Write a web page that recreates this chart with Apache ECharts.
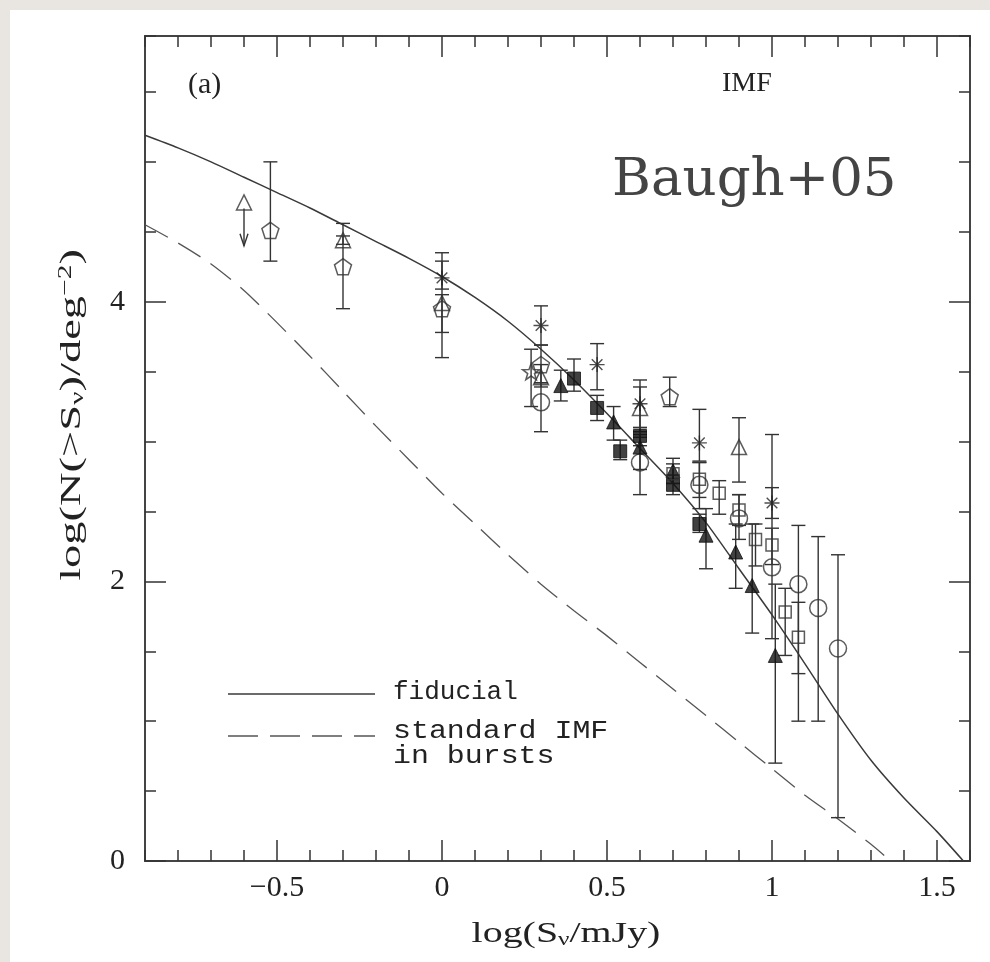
<!DOCTYPE html>
<html><head><meta charset="utf-8">
<script src="https://cdn.jsdelivr.net/npm/echarts@6/dist/echarts.min.js"></script>
<style>html,body{margin:0;padding:0;background:#e9e6e1;}#c{width:990px;height:962px;}</style>
</head><body><div id="c"></div>
<script>
// ---- model curves ----
const fiducialX = [-0.9,-0.8,-0.7,-0.6,-0.5,-0.4,-0.3,-0.2,-0.1,0,0.1,0.2,0.3,0.4,0.5,0.6,0.7,0.8,0.9,1.0,1.1,1.2,1.3,1.4,1.5,1.58];
const fiducialY = [5.19,5.10,5.00,4.89,4.78,4.67,4.55,4.43,4.31,4.18,4.03,3.86,3.66,3.44,3.20,2.95,2.70,2.42,2.09,1.76,1.41,1.05,0.72,0.45,0.21,0.0];
const burstX = [-0.9,-0.8,-0.7,-0.6,-0.5,-0.4,-0.3,-0.2,-0.1,0,0.1,0.2,0.3,0.4,0.5,0.6,0.7,0.8,0.9,1.0,1.1,1.2,1.3,1.34];
const burstY = [4.55,4.42,4.27,4.08,3.85,3.61,3.36,3.11,2.87,2.63,2.41,2.19,1.98,1.79,1.61,1.42,1.23,1.04,0.85,0.66,0.47,0.30,0.12,0.04];

// ---- observational points: [x, y, yLow, yHigh] ----
const pentagonPts = [[-0.52,4.51,4.29,5.00],[-0.30,4.25,3.95,4.56],[0.00,3.95,3.60,4.35],[0.30,3.55,3.42,3.69],[0.69,3.32,3.25,3.46]];
const openTriPts = [[-0.30,4.44,4.41,4.47],[0.00,3.99,3.78,4.05],[0.30,3.46,3.39,3.55],[0.60,3.24,3.07,3.44],[0.90,2.96,2.71,3.17]];
const asteriskPts = [[0.00,4.17,4.09,4.29],[0.30,3.83,3.69,3.97],[0.47,3.55,3.37,3.70],[0.60,3.27,3.10,3.39],[0.78,2.99,2.86,3.23],[1.00,2.56,2.45,2.67]];
const openCirclePts = [[0.30,3.28,3.07,3.42],[0.60,2.85,2.62,3.03],[0.78,2.69,2.52,2.85],[0.90,2.45,2.30,2.62],[1.00,2.10,1.59,3.05],[1.08,1.98,1.00,2.40],[1.14,1.81,1.00,2.32],[1.20,1.52,0.31,2.19]];
const filledSquarePts = [[0.40,3.45,3.36,3.59],[0.47,3.24,3.15,3.33],[0.54,2.93,2.87,3.01],[0.60,3.04,2.97,3.10],[0.70,2.69,2.62,2.76],[0.78,2.41,2.35,2.48]];
const filledTriPts = [[0.36,3.40,3.29,3.51],[0.52,3.14,3.01,3.25],[0.60,2.96,2.80,3.05],[0.70,2.79,2.70,2.88],[0.80,2.33,2.09,2.52],[0.89,2.21,1.95,2.41],[0.94,1.97,1.63,2.41],[1.01,1.47,0.70,1.98]];
const openSquarePts = [[0.70,2.77,2.70,2.84],[0.78,2.73,2.60,2.85],[0.84,2.63,2.48,2.72],[0.90,2.51,2.40,2.62],[0.95,2.30,2.11,2.41],[1.00,2.26,2.12,2.38],[1.04,1.78,1.47,1.95],[1.08,1.60,1.34,1.85]];
const starPts = [[0.27,3.50,3.25,3.66]];
// upper-limit point: [x, y, arrowTipY]
const limitPts = [[-0.60,4.71,4.40]];

// ---- tick labels ----
const xMajorTicks = [-0.5,0,0.5,1,1.5];
const yMajorTicks = [0,2,4];

const INK = '#333';
const SERIF = '"Liberation Serif","DejaVu Serif",serif';
const MONO = '"Liberation Mono","DejaVu Sans Mono",monospace';

function zip(a,b){return a.map((v,i)=>[v,b[i]]);}

function errRender(params, api){
  const x = api.value(0), lo = api.value(2), hi = api.value(3);
  const p1 = api.coord([x,hi]), p2 = api.coord([x,lo]);
  const w = 7;
  const st = {stroke:INK, lineWidth:1.4};
  return {type:'group', children:[
    {type:'line', shape:{x1:p1[0],y1:p1[1],x2:p2[0],y2:p2[1]}, style:st},
    {type:'line', shape:{x1:p1[0]-w,y1:p1[1],x2:p1[0]+w,y2:p1[1]}, style:st},
    {type:'line', shape:{x1:p2[0]-w,y1:p2[1],x2:p2[0]+w,y2:p2[1]}, style:st}
  ]};
}
function limitRender(params, api){
  const x = api.value(0), y = api.value(1), tip = api.value(2);
  const p1 = api.coord([x,y]), p2 = api.coord([x,tip]);
  const st = {stroke:INK, lineWidth:1.4, fill:null};
  return {type:'group', children:[
    {type:'line', shape:{x1:p1[0],y1:p1[1]+6,x2:p2[0],y2:p2[1]}, style:st},
    {type:'polyline', shape:{points:[[p2[0]-4,p2[1]-12],[p2[0],p2[1]],[p2[0]+4,p2[1]-12]]}, style:st}
  ]};
}

const PENT = 'path://M0,-10 L9.51,-3.09 L5.88,8.09 L-5.88,8.09 L-9.51,-3.09 Z';
const STAR = 'path://M0,-10 L2.35,-3.24 L9.51,-3.09 L3.8,1.24 L5.88,8.09 L0,4 L-5.88,8.09 L-3.8,1.24 L-9.51,-3.09 L-2.35,-3.24 Z';
const AST = 'path://M0,-10 L0,10 M-10,0 L10,0 M-7.07,-7.07 L7.07,7.07 M-7.07,7.07 L7.07,-7.07';
const openStyle = {color:'rgba(0,0,0,0)', borderColor:INK, borderWidth:1.5};
const fillStyle = {color:'#111', borderColor:'#111', borderWidth:1};

function errSeries(pts){
  return {type:'custom', renderItem:errRender, data:pts, encode:{x:0,y:1}, z:3, silent:true};
}
function markSeries(pts, symbol, size, style){
  return {type:'scatter', data:pts.map(p=>[p[0],p[1]]), symbol:symbol, symbolSize:size, symbolKeepAspect:true, itemStyle:style, z:4, silent:true};
}

const tickLine = {color:INK, width:1.5};
function xAxisPair(pos, withLabel){
  return [
    {type:'value', min:-0.9, max:1.6, interval:0.1, position:pos,
     axisLine:{show:false, onZero:false}, splitLine:{show:false},
     axisTick:{show:true, inside:true, length:11, lineStyle:tickLine},
     axisLabel:{show:withLabel, margin:12, color:'#222', fontFamily:SERIF, fontSize:30,
       formatter:function(v){const r=Math.round(v*2)/2; if(Math.abs(v-r)>1e-6) return ''; return (r<0?'\u2212':'')+String(Math.abs(r));}}},
    {type:'value', min:-0.9, max:1.6, position:pos,
     axisLine:{show:false, onZero:false}, splitLine:{show:false}, axisLabel:{show:false},
     axisTick:{show:true, inside:true, length:21, lineStyle:tickLine, customValues:xMajorTicks}}
  ];
}
function yAxisPair(pos, withLabel){
  return [
    {type:'value', min:0, max:5.9, interval:0.5, position:pos,
     axisLine:{show:false, onZero:false}, splitLine:{show:false},
     axisTick:{show:true, inside:true, length:11, lineStyle:tickLine},
     axisLabel:{show:withLabel, margin:20, color:'#222', fontFamily:SERIF, fontSize:30,
       formatter:function(v){return yMajorTicks.some(t=>Math.abs(t-v)<1e-6)?String(v):'';}}},
    {type:'value', min:0, max:5.9, position:pos,
     axisLine:{show:false, onZero:false}, splitLine:{show:false}, axisLabel:{show:false},
     axisTick:{show:true, inside:true, length:21, lineStyle:tickLine, customValues:yMajorTicks}}
  ];
}

const titleRich = {
  a:{fontFamily:SERIF,fontSize:30,fill:'#222',color:'#222'},
  s:{fontFamily:SERIF,fontSize:19,fill:'#222',color:'#222',verticalAlign:'bottom',padding:[12,0,0,0]},
  p:{fontFamily:SERIF,fontSize:19,fill:'#222',color:'#222',verticalAlign:'top',padding:[0,0,12,0]}
};

const chart = echarts.init(document.getElementById('c'), null, {renderer:'canvas'});
chart.setOption({
  animation:false,
  backgroundColor:'#e9e6e1',
  grid:{left:145, top:36, width:825, height:825, show:true, borderColor:'#444', borderWidth:2, backgroundColor:'rgba(0,0,0,0)', containLabel:false},
  xAxis:[].concat(xAxisPair('bottom',true), xAxisPair('top',false)),
  yAxis:[].concat(yAxisPair('left',true), yAxisPair('right',false)),
  graphic:[
    {type:'rect', z:-10, silent:true, shape:{x:10,y:10,width:980,height:952}, style:{fill:'#ffffff'}},
    {type:'text', left:188, top:70, z:10, style:{text:'(a)', font:'30px '+SERIF, fill:'#222'}},
    {type:'text', left:722, top:70, z:10, style:{text:'IMF', font:'28px '+SERIF, fill:'#222'}},
    {type:'text', left:612, top:155, z:10, style:{text:'Baugh+05', font:'53px "DejaVu Serif",serif', fill:'#444'}},
    {type:'text', x:566, y:934, z:10, scaleX:1.33, style:{text:'{a|log(S}{s|\u03bd}{a|/mJy)}', rich:titleRich, align:'center', verticalAlign:'middle'}},
    {type:'text', x:72, y:415, z:10, rotation:Math.PI/2, scaleX:1.55, style:{text:'{a|log(N(>S}{s|\u03bd}{a|)/deg}{p|\u22122}{a|)}', rich:titleRich, align:'center', verticalAlign:'middle'}},
    {type:'line', z:10, shape:{x1:228,y1:694,x2:375,y2:694}, style:{stroke:'#3a3a3a', lineWidth:1.5}},
    {type:'line', z:10, shape:{x1:228,y1:736,x2:375,y2:736}, style:{stroke:'#555', lineWidth:1.3, lineDash:[30,12]}},
    {type:'text', left:393, top:679, z:10, style:{text:'fiducial', font:'26px '+MONO, fill:'#222'}},
    {type:'text', x:393, y:719, z:10, scaleX:1.15, style:{text:'standard IMF\nin bursts', font:'26px '+MONO, fill:'#222', lineHeight:25}}
  ],
  series:[
    {type:'line', data:zip(fiducialX,fiducialY), showSymbol:false, smooth:0.25, lineStyle:{color:'#3a3a3a', width:1.5}, z:2, silent:true},
    {type:'line', data:zip(burstX,burstY), showSymbol:false, smooth:0.25, lineStyle:{color:'#555', width:1.3, type:[26,12]}, z:2, silent:true},
    errSeries(pentagonPts), errSeries(openTriPts), errSeries(asteriskPts), errSeries(openCirclePts),
    errSeries(filledSquarePts), errSeries(filledTriPts), errSeries(openSquarePts), errSeries(starPts),
    {type:'custom', renderItem:limitRender, data:limitPts, encode:{x:0,y:1}, z:3, silent:true},
    markSeries(pentagonPts, PENT, 17, openStyle),
    markSeries(openTriPts, 'triangle', 15, openStyle),
    markSeries(limitPts, 'triangle', 15, openStyle),
    markSeries(asteriskPts, AST, 15, {color:'rgba(0,0,0,0)', borderColor:'#222', borderWidth:1.4}),
    markSeries(openCirclePts, 'circle', 17, openStyle),
    markSeries(filledSquarePts, 'rect', 13, fillStyle),
    markSeries(filledTriPts, 'triangle', 14, fillStyle),
    markSeries(openSquarePts, 'rect', 12, openStyle),
    markSeries(starPts, STAR, 17, openStyle)
  ]
});
</script>
</body></html>
